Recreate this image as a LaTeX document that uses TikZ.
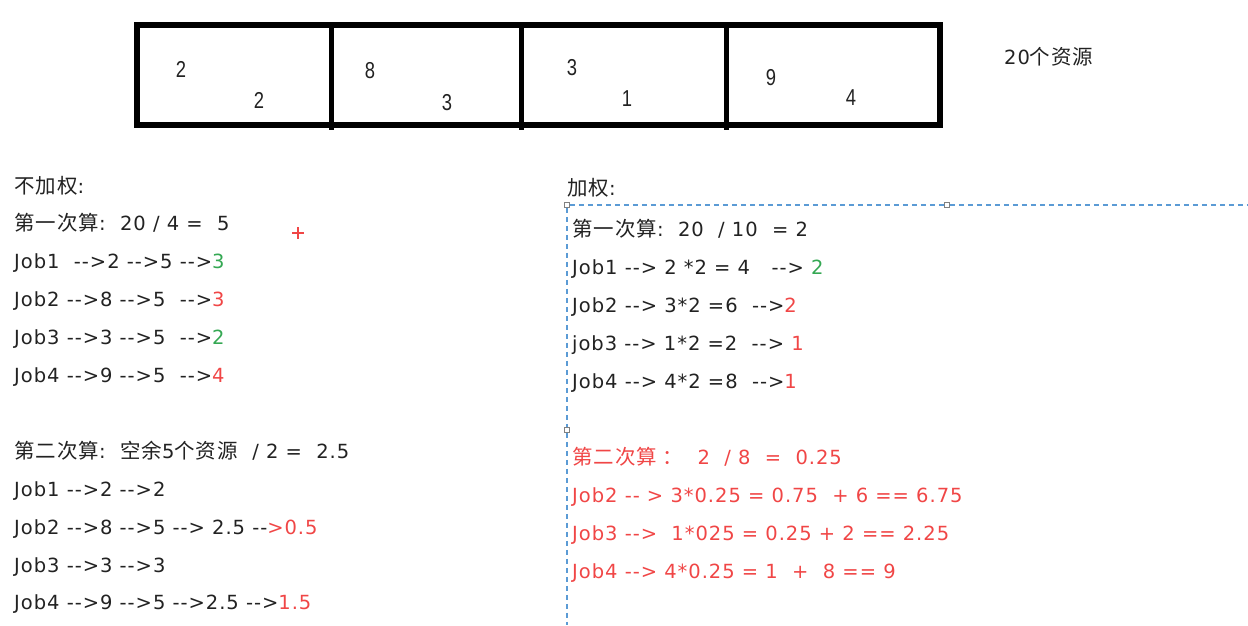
\documentclass[tikz,border=0pt]{standalone}
\usepackage{fontspec}
\setmainfont{DejaVu Sans}[Ligatures=TeXOff, LetterSpace=5]
\newfontfamily\zhfont{Noto Sans CJK SC}[LetterSpace=5, Scale=1.05]
\newfontfamily\numfont{Liberation Sans}[FakeStretch=0.8]
\usetikzlibrary{positioning}
\definecolor{okgreen}{RGB}{52,168,83}
\definecolor{badred}{RGB}{240,70,70}
\definecolor{ink}{RGB}{34,34,34}
\definecolor{guideblue}{RGB}{91,155,213}
\newcommand\zh[1]{{\zhfont #1}}
\newcommand\gr[1]{\textcolor{okgreen}{#1}}
\newcommand\rd[1]{\textcolor{badred}{#1}}

\begin{document}
\begin{tikzpicture}[
  x=1pt, y=1pt,
  font=\fontsize{19.5}{24}\selectfont, text=ink,
  txt/.style={anchor=west, inner sep=0pt, text height=15pt, text depth=4pt},
  num/.style={font=\numfont\fontsize{23}{26}\selectfont, inner sep=0pt},
  handle/.style={draw=gray, fill=white, line width=0.8pt, minimum size=5pt, inner sep=0pt},
  guideline/.style={draw=guideblue, line width=1.2pt, dash pattern=on 5pt off 4pt},
]
\useasboundingbox (0,0) rectangle (1248,-625);

% -- resource bar --
\draw[line width=6pt] (137,-25) rectangle (940,-125);
\foreach \x in {331,521,726} \draw[line width=5pt] (\x,-25) -- (\x,-130);
\node[num] (a1) at (181,-69) {2};
\node[num] (b1) at (259,-100) {2};
\node[num] (a2) at (370,-71) {8};
\node[num] (b2) at (447,-103) {3};
\node[num] (a3) at (572,-68) {3};
\node[num] (b3) at (627,-99) {1};
\node[num] (a4) at (771,-78) {9};
\node[num] (b4) at (851,-98) {4};
\node[txt] (total) at (1004,-59) {20\zh{个资源}};

% -- unweighted --
\node[txt] (uw) at (14,-187.5) {\zh{不加权}:};
\node[txt, below=37.5pt of uw.west, anchor=west] (uw1) {\zh{第一次算}:~~20 / 4 = ~5};
\node[txt, below=38pt of uw1.west, anchor=west] (uj1) {Job1~~-->2 -->5 -->\gr{3}};
\node[txt, below=38pt of uj1.west, anchor=west] (uj2) {Job2 -->8 -->5~~-->\rd{3}};
\node[txt, below=38pt of uj2.west, anchor=west] (uj3) {Job3 -->3 -->5~~-->\gr{2}};
\node[txt, below=38pt of uj3.west, anchor=west] (uj4) {Job4 -->9 -->5~~-->\rd{4}};
\node[txt, below=76pt of uj4.west, anchor=west] (uw2) {\zh{第二次算}:~~\zh{空余}5\zh{个资源}~~/ 2 = ~2.5};
\node[txt, below=38pt of uw2.west, anchor=west] (uk1) {Job1 -->2 -->2};
\node[txt, below=38pt of uk1.west, anchor=west] (uk2) {Job2 -->8 -->5 --> 2.5 --\rd{>0.5}};
\node[txt, below=38pt of uk2.west, anchor=west] (uk3) {Job3 -->3 -->3};
\node[txt, below=37pt of uk3.west, anchor=west] (uk4) {Job4 -->9 -->5 -->2.5 -->\rd{1.5}};

\draw[badred, line width=2.2pt] (292,-233) -- (304,-233) (298,-227) -- (298,-239);

% -- weighted --
\node[txt] (ww) at (567,-190) {\zh{加权}:};
\node[handle] (hA) at (567,-205) {};
\node[handle] (hB) at (947,-205) {};
\node[handle] (hC) at (567,-430) {};
\draw[guideline] (hA) -- (hB) -- (1248,-205);
\draw[guideline] (hA) -- (hC) -- (567,-625);

\node[txt] (ww1) at (572,-231) {\zh{第一次算}:~~20~~/ 10~~= 2};
\node[txt, below=38pt of ww1.west, anchor=west] (wj1) {Job1 --> 2 *2 = 4~~~--> \gr{2}};
\node[txt, below=38pt of wj1.west, anchor=west] (wj2) {Job2 --> 3*2 =6~~-->\rd{2}};
\node[txt, below=38pt of wj2.west, anchor=west] (wj3) {job3 --> 1*2 =2~~--> \rd{1}};
\node[txt, below=38pt of wj3.west, anchor=west] (wj4) {Job4 --> 4*2 =8~~-->\rd{1}};
\node[txt, text=badred, below=76pt of wj4.west, anchor=west] (ww2) {\zh{第二次算~：}~~2~~/ 8~~=~~0.25};
\node[txt, text=badred, below=38pt of ww2.west, anchor=west] (wk2) {Job2 -- > 3*0.25 = 0.75~~+ 6 == 6.75};
\node[txt, text=badred, below=38pt of wk2.west, anchor=west] (wk3) {Job3 -->~~1*025 = 0.25 + 2 == 2.25};
\node[txt, text=badred, below=38pt of wk3.west, anchor=west] (wk4) {Job4 --> 4*0.25 = 1~~+~~8 == 9};
\end{tikzpicture}
\end{document}
